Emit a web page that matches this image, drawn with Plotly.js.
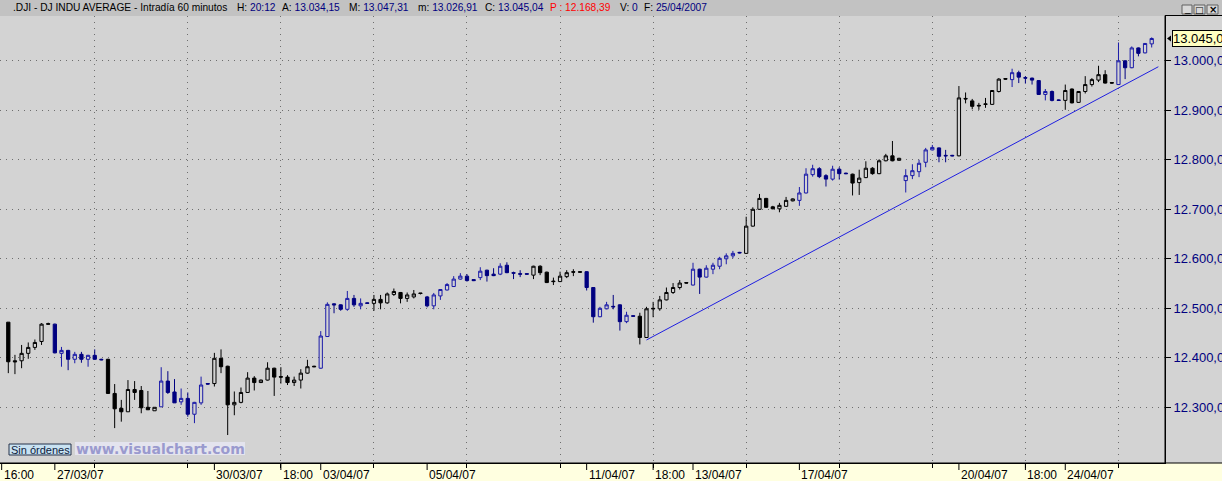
<!DOCTYPE html>
<html><head><meta charset="utf-8">
<script src="https://cdn.plot.ly/plotly-3.0.1.min.js"></script>
<style>html,body{margin:0;padding:0;background:#d3d3d3;overflow:hidden}#chart{width:1222px;height:481px}</style>
</head><body><div id="chart"></div>
<script>
// ---- data (DJ INDU AVERAGE, 60 min bars, 26/03/07 – 25/04/07) ----
const openP = [12472,12394,12394,12409,12421,12433,12469,
12468,12409,12415,12397,12407,12397,12405,12397,
12397,12328,12298,12291,12336,12334,12300,12293,
12301,12353,12331,12311,12318,12286,12309,12348,
12348,12399,12383,12305,12310,12330,12359,12350,
12355,12379,12362,12361,12350,12355,12369,12383,
12379,12443,12509,12507,12498,12520,12505,12511,
12510,12518,12511,12528,12532,12520,12523,12531,
12523,12505,12525,12537,12544,12559,12565,12558,
12562,12577,12569,12569,12587,12572,12570,12570,
12567,12585,12573,12555,12554,12564,12574,12574,
12574,12542,12483,12499,12504,12507,12473,12485,
12484,12441,12500,12499,12517,12532,12542,12552,
12547,12579,12563,12579,12585,12600,12606,12613,
12611,12666,12700,12722,12705,12701,12706,12717,
12718,12733,12770,12782,12768,12761,12781,12773,
12771,12754,12764,12783,12772,12798,12808,12799,
12758,12768,12776,12795,12820,12824,12809,12809,
12808,12924,12919,12910,12913,12912,12938,12964,
12962,12976,12966,12965,12960,12932,12938,12921,
12920,12943,12916,12938,12952,12961,12972,12956,
12952,13000,12986,13026,13016,13034.15];
const highP = [12472,12406,12426,12431,12437,12470,12471,
12469,12422,12416,12412,12412,12406,12417,12398,
12398,12347,12315,12355,12353,12343,12333,12300,
12381,12373,12357,12338,12330,12311,12362,12349,
12410,12417,12384,12332,12340,12371,12363,12356,
12391,12380,12381,12365,12362,12377,12396,12384,
12454,12512,12510,12508,12535,12527,12520,12512,
12527,12527,12532,12540,12533,12532,12537,12531,
12525,12531,12539,12551,12565,12571,12569,12559,
12583,12578,12581,12591,12593,12574,12577,12571,
12586,12587,12574,12562,12574,12577,12579,12575,
12575,12543,12503,12513,12527,12508,12493,12486,
12491,12503,12513,12525,12542,12551,12557,12553,
12592,12580,12587,12592,12604,12611,12616,12614,
12685,12704,12731,12723,12707,12713,12725,12722,
12745,12783,12790,12785,12771,12788,12785,12774,
12772,12780,12797,12785,12801,12812,12838,12804,
12781,12791,12800,12824,12830,12825,12820,12810,
12949,12936,12923,12915,12925,12941,12965,12965,
12984,12980,12969,12966,12961,12943,12940,12922,
12952,12944,12939,12969,12965,12990,12981,12957,
13037,13001,13029,13027,13036,13047.31];
const lowP = [12369,12367,12379,12398,12416,12426,12467,
12409,12382,12375,12389,12390,12382,12396,12395,
12327,12258,12271,12291,12315,12288,12295,12293,
12301,12327,12309,12305,12281,12268,12305,12346,
12342,12369,12244,12284,12308,12329,12334,12349,
12354,12323,12348,12345,12343,12338,12368,12381,
12378,12442,12490,12495,12495,12503,12498,12509,
12495,12498,12509,12525,12510,12513,12520,12528,
12502,12498,12517,12536,12543,12558,12554,12555,
12557,12554,12565,12567,12571,12559,12563,12568,
12559,12567,12551,12547,12553,12561,12565,12572,
12536,12471,12482,12498,12498,12455,12470,12483,
12427,12440,12482,12495,12516,12529,12538,12550,
12546,12529,12562,12569,12579,12589,12601,12611,
12610,12665,12699,12703,12700,12694,12705,12716,
12707,12732,12766,12763,12746,12758,12760,12771,
12728,12729,12763,12770,12771,12797,12797,12798,
12734,12761,12765,12785,12819,12795,12795,12807,
12807,12914,12902,12901,12905,12911,12936,12962,
12947,12955,12954,12952,12931,12920,12918,12919,
12901,12914,12915,12934,12948,12957,12954,12954,
12951,12963,12985,13009,13015,13026.91];
const closeP = [12392,12392,12409,12421,12431,12468,12468,
12410,12415,12397,12407,12397,12405,12397,12396,
12328,12297,12291,12336,12330,12299,12295,12300,
12353,12330,12309,12318,12286,12310,12345,12347,
12399,12382,12305,12310,12330,12359,12350,12355,
12379,12361,12361,12350,12355,12369,12382,12382,
12444,12508,12507,12498,12520,12507,12510,12510,
12518,12511,12529,12534,12520,12527,12529,12530,
12505,12527,12538,12548,12559,12565,12556,12556,
12575,12566,12566,12585,12572,12571,12569,12569,
12585,12572,12552,12554,12565,12572,12573,12573,
12542,12483,12500,12507,12503,12473,12486,12484,
12441,12499,12499,12517,12532,12542,12551,12551,
12579,12563,12581,12587,12601,12606,12611,12612,
12666,12700,12722,12704,12701,12708,12718,12721,
12733,12771,12782,12766,12761,12781,12772,12772,
12753,12763,12783,12772,12798,12808,12798,12803,
12768,12778,12793,12820,12825,12807,12808,12808,
12925,12923,12908,12909,12912,12940,12963,12963,
12976,12967,12965,12961,12932,12938,12920,12920,
12940,12915,12938,12952,12962,12972,12955,12955,
13000,12986,13026,13015,13035,13045.04];
// bars per session and the colour tone used for each session (k = black, b = blue)
const dayBars = [7,8,8,8,8,8,8,8,8,8,8,8,8,8,8,8,8,8,8,8,8,6];
const dayTone = ['k','b','k','b','k','k','b','k','b','b','k','b','k','b','k','b','k','b','k','b','k','b'];
// support line drawn on the chart
const trendX = [96, 173];
const trendY = [12436, 12988];
// axes
const yTicks = [12300,12400,12500,12600,12700,12800,12900,13000];
const yTickText = ['12.300,00','12.400,00','12.500,00','12.600,00','12.700,00','12.800,00','12.900,00','13.000,00'];
const xGridTicks = [13,27,41,55,69,83,97,111,125,139,153,167];
const xLabelPos = [-1,7,31,41,47,63,87,97,103,119,143,153,159];
const xLabelText = ['16:00','27/03/07','30/03/07','18:00','03/04/07','05/04/07','11/04/07','18:00','13/04/07','17/04/07','20/04/07','18:00','24/04/07'];
const lastPrice = 13045.04;

// ---- build ----
const BG = '#d3d3d3';
const FONT = 'Liberation Sans, Arial, sans-serif';
const tones = [];
dayBars.forEach((n,i)=>{for(let j=0;j<n;j++) tones.push(dayTone[i]);});
const idx = openP.map((_,i)=>i).filter(i=>tones[i]!==undefined);
const pick = (arr,t)=>idx.filter(i=>tones[i]===t).map(i=>arr[i]);
function candles(t, incLine, decLine){
  return {type:'candlestick', x:pick(idx,t), open:pick(openP,t), high:pick(highP,t), low:pick(lowP,t), close:pick(closeP,t),
    increasing:{line:{color:incLine,width:1}, fillcolor:BG},
    decreasing:{line:{color:decLine,width:1}, fillcolor:decLine},
    whiskerwidth:0, hoverinfo:'skip', showlegend:false};
}
const traces = [
  candles('k','#000000','#000000'),
  candles('b','#1a1aa8','#000080'),
  {type:'scatter', mode:'lines', x:trendX, y:trendY, line:{color:'#1f1fe0',width:1}, hoverinfo:'skip', showlegend:false}
];

const W = 1222, H = 481, L = 0, R = 57, T = 16, B = 18;
const PW = W - L - R, PH = H - T - B;
const px = v => v / PW;           // pixel x -> paper
const py = v => (H - B - v) / PH; // pixel y -> paper

const shapes = [
  {type:'rect', xref:'paper', yref:'paper', x0:0, x1:px(W), y0:py(H), y1:0, fillcolor:'#ffffe0', line:{width:0}, layer:'below'},
  {type:'rect', xref:'paper', yref:'paper', x0:0, x1:px(W), y0:py(16), y1:py(0), fillcolor:'#c2c2c2', line:{width:0}, layer:'above'},
  {type:'line', xref:'paper', yref:'paper', x0:0, x1:px(W), y0:0, y1:0, line:{color:'#000',width:1}},
  {type:'line', xref:'paper', yref:'paper', x0:1, x1:px(W), y0:py(15.5), y1:py(15.5), line:{color:'#000',width:1}},
  {type:'line', xref:'paper', yref:'paper', x0:1, x1:1, y0:0, y1:py(15.5), line:{color:'#000',width:1}},
  // "Sin órdenes" box and watermark background
  {type:'rect', xref:'paper', yref:'paper', x0:px(9), x1:px(71), y0:py(455), y1:py(444), fillcolor:'#c8e2f2', line:{color:'#26324a',width:1}, layer:'above'},
  {type:'rect', xref:'paper', yref:'paper', x0:px(75), x1:px(245), y0:py(455), y1:py(442), fillcolor:'#e4e4ee', line:{width:0}, layer:'above'},
  // window buttons
  {type:'rect', xref:'paper', yref:'paper', x0:px(1182), x1:px(1192), y0:py(14), y1:py(5), fillcolor:'#d8d8d8', line:{color:'#606060',width:1}, layer:'above'},
  {type:'rect', xref:'paper', yref:'paper', x0:px(1194), x1:px(1205), y0:py(14), y1:py(5), fillcolor:'#d8d8d8', line:{color:'#606060',width:1}, layer:'above'},
  {type:'rect', xref:'paper', yref:'paper', x0:px(1207), x1:px(1218), y0:py(14), y1:py(5), fillcolor:'#d8d8d8', line:{color:'#606060',width:1}, layer:'above'},
  // last-price pointer
  {type:'path', xref:'paper', yref:'y', path:`M ${px(1167)} ${lastPrice} L ${px(1171)} ${lastPrice+6} L ${px(1171)} ${lastPrice-6} Z`, fillcolor:'#000', line:{width:0}}
];
xLabelPos.forEach(p=>shapes.push({type:'line', xref:'x', yref:'paper', x0:p, x1:p, y0:0, y1:py(470), line:{color:'#000',width:1}}));

const navy = '#000080';
const hdr = (x, text) => ({xref:'paper', yref:'paper', x:px(x), y:py(8), xanchor:'left', yanchor:'middle', showarrow:false, text, font:{family:FONT, size:10.2, color:'#000'}, borderpad:0});
const nv = s => `<span style="color:${navy}">${s}</span>`;
const free = (x, y, text, font, extra) => Object.assign({xref:'paper', yref:'paper', x:px(x), y:py(y), xanchor:'center', yanchor:'middle', showarrow:false, text, font}, extra||{});
const annotations = [
  hdr(12, '.DJI - DJ INDU AVERAGE - Intradía 60 minutos'),
  hdr(236, 'H: ' + nv('20:12')),
  hdr(281, 'A: ' + nv('13.034,15')),
  hdr(348, 'M: ' + nv('13.047,31')),
  hdr(417, 'm: ' + nv('13.026,91')),
  hdr(484, 'C: ' + nv('13.045,04')),
  hdr(549, '<span style="color:#ff0000">P : 12.168,39</span>'),
  hdr(619, 'V: ' + nv('0')),
  hdr(643, 'F: ' + nv('25/04/2007')),
  free(1187, 8.5, '_', {family:FONT,size:10,color:'#000'}),
  free(1199.5, 9.5, '□', {family:'DejaVu Sans',size:9,color:'#000'}),
  free(1212.5, 9.5, '<b>×</b>', {family:'DejaVu Sans',size:10,color:'#000'}),
  {xref:'paper', yref:'y', x:px(1172), y:lastPrice, xanchor:'left', yanchor:'middle', showarrow:false, text:'13.045,0',
   bgcolor:'#ffffc0', bordercolor:'#000', borderwidth:1, borderpad:0, font:{family:FONT, size:13, color:'#000'}},
  free(40, 449.5, 'Sin órdenes', {family:FONT, size:11, color:'#0c1a3c'}),
  free(160, 448.5, '<b>www.visualchart.com</b>', {family:'DejaVu Sans', size:14, color:'#9a9ace'})
];
xLabelPos.forEach((p,i)=>annotations.push({xref:'x', yref:'paper', x:p, y:py(475), xanchor:'left', yanchor:'middle', xshift:0, showarrow:false, text:xLabelText[i], font:{family:FONT, size:12, color:'#000'}}));

const layout = {
  width:W, height:H, margin:{l:L, r:R, t:T, b:B, pad:0},
  paper_bgcolor:BG, plot_bgcolor:BG, showlegend:false, dragmode:false,
  xaxis:{range:[-1.249, 174.0], tickvals:xGridTicks, showticklabels:false, ticks:'outside', ticklen:4, tickcolor:'#000',
         showgrid:true, gridcolor:'#6e6e6e', griddash:'1px,5px', gridwidth:1, showline:true, linecolor:'#000', linewidth:1,
         zeroline:false, rangeslider:{visible:false}, fixedrange:true},
  yaxis:{range:[12187.5, 13090.5], side:'right', tickvals:yTicks, ticktext:yTickText, ticks:'outside', ticklen:5, tickcolor:'#000',
         tickfont:{family:FONT, size:13, color:navy}, showgrid:true, gridcolor:'#6e6e6e', griddash:'1px,5px', gridwidth:1,
         showline:true, linecolor:'#000', linewidth:1, zeroline:false, fixedrange:true},
  shapes, annotations
};
Plotly.newPlot('chart', traces, layout, {staticPlot:true, displayModeBar:false});
</script>
</body></html>
